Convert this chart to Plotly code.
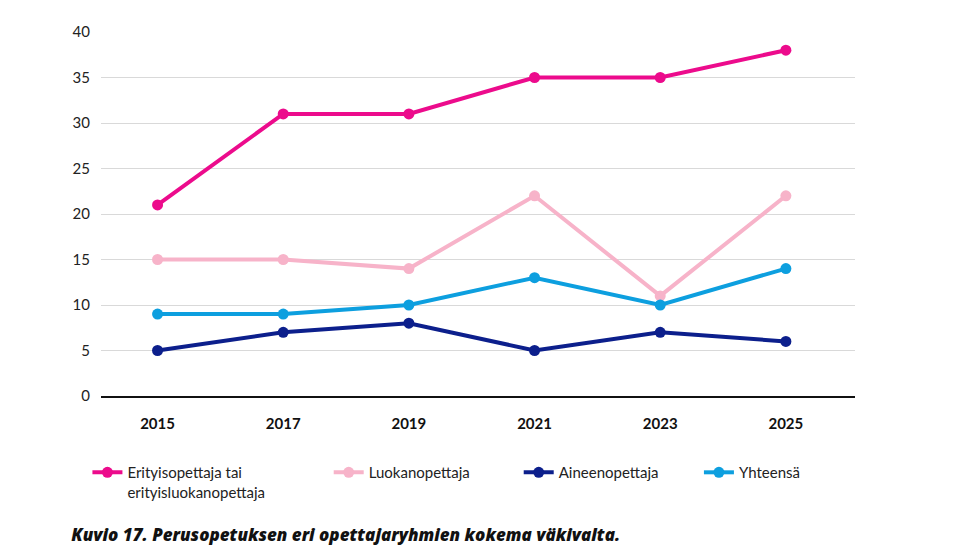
import plotly.graph_objects as go

years = ['2015', '2017', '2019', '2021', '2023', '2025']

erityis = [21, 31, 31, 35, 35, 38]
luokan = [15, 15, 14, 22, 11, 22]
aineen = [5, 7, 8, 5, 7, 6]
yhteensa = [9, 9, 10, 13, 10, 14]

names = ['Erityisopettaja tai<br>erityisluokanopettaja', 'Luokanopettaja',
         'Aineenopettaja', 'Yhteensä']
colors = ['#ec0b8c', '#f7b3c9', '#0c1f8c', '#0d9fdf']
legend_x = [-0.018, 0.302, 0.554, 0.793]

FONT = 'Lato'

fig = go.Figure()
for i, (name, vals, col) in enumerate(zip(names, [erityis, luokan, aineen, yhteensa], colors)):
    lg = 'legend' if i == 0 else f'legend{i + 1}'
    fig.add_trace(go.Scatter(x=years, y=vals, name=name, mode='lines+markers',
                             line=dict(color=col, width=4),
                             marker=dict(color=col, size=11),
                             legend=lg))

# one legend box per entry so the spacing can follow the original
for i, lx in enumerate(legend_x):
    key = 'legend' if i == 0 else f'legend{i + 1}'
    fig.update_layout({key: dict(orientation='h', x=lx, xanchor='left', y=-0.165,
                                 yanchor='top', valign='top', bgcolor='rgba(0,0,0,0)',
                                 font=dict(family=FONT, size=15, color='#222222'))})

fig.update_layout(
    width=960, height=552,
    margin=dict(l=93, r=113, t=24, b=164),
    plot_bgcolor='white', paper_bgcolor='white',
    font=dict(family=FONT, size=14, color='#222222'),
    showlegend=True,
    title=dict(text='<i>Kuvio 17. Perusopetuksen eri opettajaryhmien kokema väkivalta.</i>',
               xref='container', yref='container', x=0.066, y=0.045,
               xanchor='left', yanchor='middle',
               font=dict(family='Open Sans', size=17, color='#111111', weight=800)),
)
fig.update_xaxes(type='category', range=[-0.45, 5.55], showgrid=False,
                 showline=True, linecolor='#111111', linewidth=2,
                 ticks='', ticklabelstandoff=13,
                 tickfont=dict(family=FONT, size=15, color='#111111', weight='bold'))
fig.update_yaxes(range=[0, 40], dtick=5, showgrid=True, gridcolor='#d9d9d9',
                 gridwidth=1, zeroline=False, ticks='', ticklabelstandoff=10,
                 tickfont=dict(family=FONT, size=15, color='#222222'))

fig.write_html('out.html')
